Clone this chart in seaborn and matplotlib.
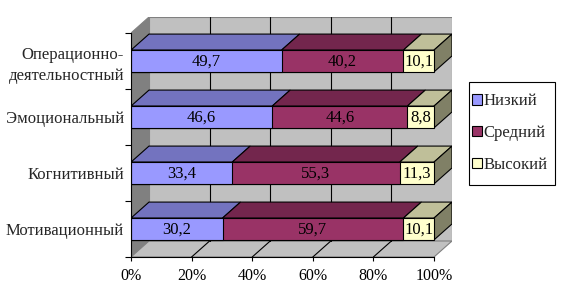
import matplotlib
matplotlib.use("Agg")
import matplotlib.pyplot as plt
import seaborn as sns
import pandas as pd
from matplotlib.patches import Polygon, Patch, Rectangle

categories = ["Операционно-\nдеятельностный", "Эмоциональный", "Когнитивный", "Мотивационный"]
series = ["Низкий", "Средний", "Высокий"]
low = [49.7, 46.6, 33.4, 30.2]
mid = [40.2, 44.6, 55.3, 59.7]
high = [10.1, 8.8, 11.3, 10.1]
xticks = [0, 20, 40, 60, 80, 100]
xticklabels = ["0%", "20%", "40%", "60%", "80%", "100%"]

front_cols = ["#9999FF", "#993366", "#FFFFCC"]
top_cols = ["#7373BF", "#73264D", "#BFBF99"]
side_col = "#808066"

sns.set_theme(style="white")
plt.rcParams["font.family"] = ["Liberation Serif", "DejaVu Serif"]

fig = plt.figure(figsize=(5.68, 3.00), dpi=100)
L, R, B, T = 131, 452, 257, 17
ax = fig.add_axes([L / 568, (300 - B) / 300, (R - L) / 568, (B - T) / 300])

px_per_x = (434 - 131) / 100.0
px_per_y = (257 - 33) / 4.0
dx = 18 / px_per_x
dy = 16 / px_per_y
xmax = 100 + dx
ytop = -0.5 - dy
ybot = 3.5

# walls
ax.add_patch(Polygon([(dx, ytop), (xmax, ytop), (xmax, ybot - dy), (dx, ybot - dy)],
                     closed=True, facecolor="#C0C0C0", edgecolor="#808080", lw=0.8, zorder=1))
ax.add_patch(Polygon([(0, ybot), (0, -0.5), (dx, ytop), (dx, ybot - dy)],
                     closed=True, facecolor="#808080", edgecolor="#808080", lw=0.8, zorder=1))
ax.add_patch(Polygon([(0, ybot), (100, ybot), (xmax, ybot - dy), (dx, ybot - dy)],
                     closed=True, facecolor="#C0C0C0", edgecolor="#808080", lw=0.8, zorder=1))
for xv in xticks[1:-1]:
    ax.plot([xv + dx, xv + dx], [ytop, ybot - dy], color="black", lw=0.8, zorder=2)
    ax.plot([xv, xv + dx], [ybot, ybot - dy], color="black", lw=0.8, zorder=2)

df = pd.DataFrame({"cat": categories, "low": low, "mid": mid, "high": high})
df["c1"] = df["low"]
df["c2"] = df["low"] + df["mid"]
df["c3"] = df["low"] + df["mid"] + df["high"]

bw = 0.39
h = bw / 2
# depth faces
for i in range(len(categories)):
    lefts = [0, df["c1"][i], df["c2"][i]]
    rights = [df["c1"][i], df["c2"][i], df["c3"][i]]
    for j in range(3):
        l, r = lefts[j], rights[j]
        ax.add_patch(Polygon([(l, i - h), (r, i - h), (r + dx, i - h - dy), (l + dx, i - h - dy)],
                             closed=True, facecolor=top_cols[j], edgecolor="black", lw=0.8, zorder=3))
    r = rights[-1]
    ax.add_patch(Polygon([(r, i - h), (r, i + h), (r + dx, i + h - dy), (r + dx, i - h - dy)],
                         closed=True, facecolor=side_col, edgecolor="black", lw=0.8, zorder=3))

# front faces via seaborn, stacked by cumulative totals
for col, c in zip(["c3", "c2", "c1"], front_cols[::-1]):
    sns.barplot(data=df, y="cat", x=col, orient="h", color=c, width=bw, saturation=1,
                edgecolor="black", linewidth=0.8, order=categories, ax=ax, zorder=4)

# value labels
for i in range(len(categories)):
    vals = [low[i], mid[i], high[i]]
    starts = [0, df["c1"][i], df["c2"][i]]
    for v, s in zip(vals, starts):
        ax.text(s + v / 2, i + 0.01, f"{v:.1f}".replace(".", ","), ha="center", va="center",
                fontsize=12, color="black", zorder=5)

ax.set_xlim(0, xmax)
ax.set_ylim(ybot, ytop)
ax.set_xlabel("")
ax.set_ylabel("")
for s in ["top", "right"]:
    ax.spines[s].set_visible(False)
ax.spines["left"].set_bounds(ybot, -0.5)
ax.spines["bottom"].set_bounds(0, 100)
for s in ["left", "bottom"]:
    ax.spines[s].set_color("black")
    ax.spines[s].set_linewidth(0.8)
    ax.spines[s].set_zorder(6)

ax.set_xticks(xticks)
ax.set_xticklabels(xticklabels, fontsize=11.5)
ax.tick_params(axis="x", direction="out", length=3, width=0.8, pad=5, bottom=True, colors="black")
ax.set_yticks([-0.5, 0.5, 1.5, 2.5, 3.5])
ax.set_yticklabels([])
ax.tick_params(axis="y", which="major", direction="out", length=4, width=0.8, left=True, colors="black")
ax.set_yticks([0, 1, 2, 3], minor=True)
ax.set_yticklabels(categories, minor=True, fontsize=12, ha="right", linespacing=1.45)
ax.tick_params(axis="y", which="minor", length=0, pad=5)
ax.grid(False)

# legend box frame
fig.patches.append(Rectangle((469 / 568, 1 - 185 / 300), (555 - 469) / 568, (185 - 82) / 300,
                             transform=fig.transFigure, facecolor="white", edgecolor="black",
                             lw=0.8, zorder=0))
handles = [Patch(facecolor=c, edgecolor="black", lw=0.8) for c in front_cols]
leg = fig.legend(handles, series, loc="center left", bbox_to_anchor=(472 / 568, 1 - 133 / 300),
                 frameon=False, fontsize=12, handlelength=0.6, handleheight=0.6,
                 handletextpad=0.1, labelspacing=0.95, borderpad=0, borderaxespad=0)

fig.savefig("out.png", dpi=100)
